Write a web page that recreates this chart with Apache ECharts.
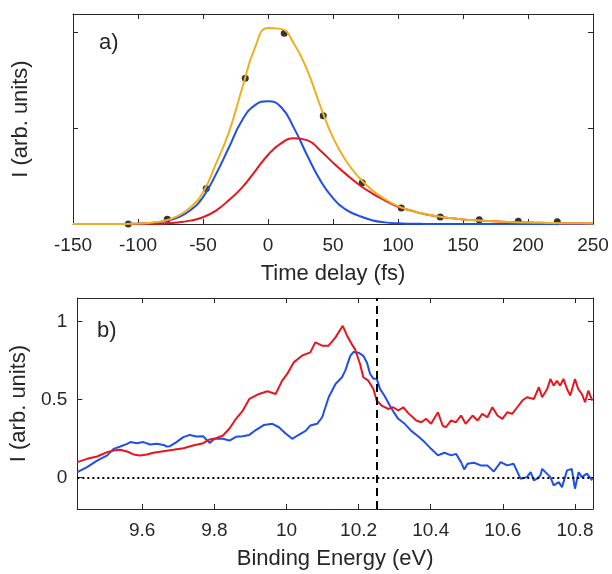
<!DOCTYPE html>
<html>
<head>
<meta charset="utf-8">
<script src="https://cdn.jsdelivr.net/npm/echarts@6/dist/echarts.min.js"></script>
<style>
  html, body { margin: 0; padding: 0; background: #fff; }
  #chart { width: 612px; height: 574px; }
</style>
</head>
<body>
<div id="chart"></div>
<script>
// ---- panel a: time delay scan ----
const delay = [-150, -140, -130, -120, -110, -100, -90, -80, -70, -60, -50, -40, -30, -20, -10, 0, 10, 20, 30, 40,
  50, 60, 70, 80, 90, 100, 110, 120, 130, 140, 150, 160, 170, 180, 190, 200, 210, 220, 230, 240, 250]
const fitBlue = [0, 0, 0, 0, 0.001, 0.003, 0.01, 0.028, 0.065, 0.14, 0.28, 0.52, 0.8, 1.08, 1.24, 1.28, 1.22, 1.0, 0.72, 0.46,
  0.27, 0.15, 0.085, 0.04, 0.017, 0.007, 0.003, 0.001, 0, 0, 0, 0, 0, 0, 0, 0, 0, 0, 0, 0, 0]
const fitRed = [0, 0, 0, 0, 0, 0.001, 0.003, 0.006, 0.015, 0.035, 0.07, 0.14, 0.25, 0.38, 0.55, 0.72, 0.84, 0.895, 0.875, 0.77,
  0.64, 0.52, 0.41, 0.32, 0.245, 0.18, 0.14, 0.105, 0.08, 0.062, 0.048, 0.038, 0.03, 0.024, 0.019, 0.015, 0.012, 0.01, 0.008, 0.007, 0.006]
const fitSum = [0, 0, 0, 0, 0.001, 0.004, 0.013, 0.033, 0.08, 0.17, 0.33, 0.63, 0.96, 1.41, 1.84, 2.045, 2.035, 1.88, 1.61, 1.24,
  0.9, 0.66, 0.485, 0.355, 0.26, 0.186, 0.142, 0.106, 0.08, 0.062, 0.048, 0.038, 0.03, 0.024, 0.019, 0.015, 0.012, 0.01, 0.008, 0.007, 0.006]
const dotT = [-107.5, -77.5, -47.5, -17.5, 12.5, 42.5, 72.5, 102.5, 132.5, 162.5, 192.5, 222.5]
const dotI = [0.0, 0.05, 0.37, 1.52, 1.99, 1.13, 0.43, 0.167, 0.073, 0.045, 0.028, 0.024]

// ---- panel b: spectra ----
const blueE = [9.42, 9.447, 9.475, 9.503, 9.521, 9.539, 9.558, 9.567, 9.585, 9.603, 9.622, 9.64, 9.659, 9.668, 9.677, 9.695,
  9.714, 9.732, 9.75, 9.769, 9.778, 9.787, 9.801, 9.824, 9.842, 9.86, 9.879, 9.897, 9.915, 9.938, 9.961, 9.979, 9.997,
  10.016, 10.034, 10.053, 10.066, 10.085, 10.099, 10.117, 10.136, 10.154, 10.163, 10.177, 10.186, 10.2, 10.213, 10.223,
  10.232, 10.241, 10.25, 10.259, 10.273, 10.287, 10.3, 10.31, 10.328, 10.346, 10.365, 10.383, 10.401, 10.42, 10.438,
  10.457, 10.47, 10.484, 10.493, 10.502, 10.52, 10.539, 10.557, 10.575, 10.594, 10.612, 10.63, 10.649, 10.667, 10.677,
  10.686, 10.695, 10.704, 10.709, 10.718, 10.732, 10.741, 10.755, 10.764, 10.778, 10.791, 10.8, 10.81, 10.819, 10.833, 10.848]
const blueI = [0.036, 0.068, 0.11, 0.143, 0.185, 0.2, 0.217, 0.228, 0.221, 0.228, 0.213, 0.217, 0.21, 0.2, 0.202, 0.228,
  0.26, 0.274, 0.264, 0.266, 0.243, 0.223, 0.249, 0.249, 0.238, 0.262, 0.266, 0.274, 0.305, 0.338, 0.345, 0.323, 0.285,
  0.249, 0.275, 0.3, 0.334, 0.345, 0.387, 0.515, 0.6, 0.643, 0.685, 0.78, 0.805, 0.8, 0.78, 0.738,
  0.664, 0.634, 0.634, 0.57, 0.52, 0.46, 0.41, 0.377, 0.345, 0.3, 0.265, 0.228, 0.185, 0.143, 0.16,
  0.143, 0.153, 0.1, 0.053, 0.089, 0.096, 0.079, 0.079, 0.04, 0.1, 0.079, 0.089, -0.006, 0.004, 0.036,
  -0.017, -0.006, 0.015, 0.057, 0.036, 0.004, -0.049, -0.028, -0.06, 0.047, 0.057, -0.07, 0.036, 0.004, 0.026, -0.017]
const redE = [9.42, 9.447, 9.475, 9.503, 9.521, 9.539, 9.558, 9.576, 9.594, 9.613, 9.631, 9.659, 9.686, 9.714, 9.741, 9.769,
  9.787, 9.805, 9.824, 9.842, 9.86, 9.879, 9.897, 9.924, 9.947, 9.97, 9.988, 10.002, 10.02, 10.043, 10.066, 10.08, 10.099,
  10.117, 10.136, 10.156, 10.168, 10.181, 10.19, 10.204, 10.213, 10.227, 10.241, 10.25, 10.264, 10.282, 10.296, 10.31,
  10.324, 10.337, 10.36, 10.374, 10.387, 10.401, 10.42, 10.433, 10.442, 10.456, 10.47, 10.484, 10.497, 10.516, 10.53,
  10.543, 10.557, 10.571, 10.585, 10.599, 10.612, 10.626, 10.64, 10.654, 10.667, 10.686, 10.7, 10.709, 10.723, 10.732,
  10.741, 10.75, 10.759, 10.768, 10.778, 10.787, 10.8, 10.809, 10.819, 10.828, 10.837, 10.848]
const redI = [0.1, 0.121, 0.136, 0.164, 0.174, 0.179, 0.168, 0.149, 0.143, 0.149, 0.16, 0.17, 0.179, 0.189, 0.206, 0.221,
  0.245, 0.253, 0.27, 0.315, 0.377, 0.43, 0.504, 0.536, 0.553, 0.536, 0.621, 0.664, 0.738, 0.781, 0.802, 0.866, 0.845,
  0.845, 0.898, 0.972, 0.909, 0.855, 0.823, 0.728, 0.643, 0.621, 0.568, 0.494, 0.462, 0.44, 0.451, 0.43,
  0.451, 0.415, 0.366, 0.355, 0.377, 0.345, 0.419, 0.334, 0.323, 0.366, 0.355, 0.398, 0.345, 0.398, 0.366,
  0.409, 0.387, 0.451, 0.398, 0.377, 0.419, 0.409, 0.451, 0.494, 0.515, 0.504, 0.579, 0.515, 0.568, 0.632,
  0.589, 0.621, 0.589, 0.632, 0.568, 0.526, 0.632, 0.568, 0.536, 0.483, 0.557, 0.494]
const markerE = 10.25

const ink = '#262626'
const font = 'Liberation Sans, Arial, sans-serif'
const zip = (a, b) => a.map((v, i) => [v, b[i]])

function xAx (grid, pos, opts) {
  return Object.assign({
    type: 'value', gridIndex: grid, position: pos,
    axisLine: { show: true, onZero: false, lineStyle: { color: ink, width: 1 } },
    axisTick: { show: true, inside: true, length: 5, lineStyle: { color: ink } },
    axisLabel: { show: pos === 'bottom', color: ink, fontSize: 19, fontFamily: font, margin: 12 },
    splitLine: { show: false }
  }, opts)
}
function yAx (grid, pos, opts) {
  return Object.assign({
    type: 'value', gridIndex: grid, position: pos,
    axisLine: { show: true, onZero: false, lineStyle: { color: ink, width: 1 } },
    axisTick: { show: true, inside: true, length: 5, lineStyle: { color: ink } },
    axisLabel: { show: false },
    splitLine: { show: false }
  }, opts)
}

const chart = echarts.init(document.getElementById('chart'))
const xA = { min: -150, max: 250, interval: 50 }
const yA = { min: 0, max: 2.19, interval: 1 }
const xB = { min: 9.42, max: 10.85, splitNumber: 7 }
const yB = { min: -0.2, max: 1.15, splitNumber: 3 }

const option = {
  animation: false,
  textStyle: { fontFamily: font },
  grid: [
    { left: 73, top: 14, width: 520, height: 210 },
    { left: 73, top: 298, width: 520, height: 211 }
  ],
  xAxis: [
    xAx(0, 'bottom', Object.assign({
      name: 'Time delay (fs)', nameLocation: 'middle', nameGap: 39,
      nameTextStyle: { color: ink, fontSize: 22, fontFamily: font }
    }, xA)),
    xAx(0, 'top', Object.assign({}, xA)),
    xAx(1, 'bottom', Object.assign({
      name: 'Binding Energy (eV)', nameLocation: 'middle', nameGap: 39,
      nameTextStyle: { color: ink, fontSize: 22, fontFamily: font },
      axisLabel: { show: true, color: ink, fontSize: 19, fontFamily: font, margin: 12, showMinLabel: false, showMaxLabel: false }
    }, xB)),
    xAx(1, 'top', Object.assign({}, xB))
  ],
  yAxis: [
    yAx(0, 'left', Object.assign({
      name: 'I (arb. units)', nameLocation: 'middle', nameGap: 41, nameRotate: 90,
      nameTextStyle: { color: ink, fontSize: 22, fontFamily: font }
    }, yA)),
    yAx(0, 'right', Object.assign({}, yA)),
    yAx(1, 'left', Object.assign({
      name: 'I (arb. units)', nameLocation: 'middle', nameGap: 41, nameRotate: 90,
      nameTextStyle: { color: ink, fontSize: 22, fontFamily: font },
      axisLabel: { show: true, color: ink, fontSize: 19, fontFamily: font, margin: 10, showMinLabel: false, showMaxLabel: false }
    }, yB)),
    yAx(1, 'right', Object.assign({}, yB))
  ],
  series: [
    { type: 'line', xAxisIndex: 0, yAxisIndex: 0, data: zip(delay, fitBlue), smooth: 0.5, showSymbol: false,
      lineStyle: { color: '#1f4fe6', width: 2 } },
    { type: 'line', xAxisIndex: 0, yAxisIndex: 0, data: zip(delay, fitRed), smooth: 0.5, showSymbol: false,
      lineStyle: { color: '#e6161c', width: 2 } },
    { type: 'line', xAxisIndex: 0, yAxisIndex: 0, data: zip(delay, fitSum), smooth: 0.5, showSymbol: false,
      lineStyle: { color: '#edb120', width: 2 } },
    { type: 'scatter', xAxisIndex: 0, yAxisIndex: 0, data: zip(dotT, dotI), symbol: 'circle', symbolSize: 7,
      itemStyle: { color: '#000' } },
    { type: 'line', xAxisIndex: 2, yAxisIndex: 2, data: zip(blueE, blueI), showSymbol: false,
      lineStyle: { color: '#1f4fe6', width: 2 },
      markLine: {
        silent: true, symbol: 'none', label: { show: false },
        data: [{ yAxis: 0, lineStyle: { color: '#000', type: [2, 3], width: 2 } }]
      } },
    { type: 'line', xAxisIndex: 2, yAxisIndex: 2, data: zip(redE, redI), showSymbol: false,
      lineStyle: { color: '#e6161c', width: 2 },
      markLine: {
        silent: true, symbol: 'none', label: { show: false },
        data: [{ xAxis: markerE, lineStyle: { color: '#000', type: [8, 5], width: 2 } }]
      } }
  ],
  graphic: [
    { type: 'text', left: 99, top: 32, style: { text: 'a)', fontSize: 22, fontFamily: font, fill: ink } },
    { type: 'text', left: 97, top: 320, style: { text: 'b)', fontSize: 22, fontFamily: font, fill: ink } }
  ]
}

chart.setOption(option)
</script>
</body>
</html>
